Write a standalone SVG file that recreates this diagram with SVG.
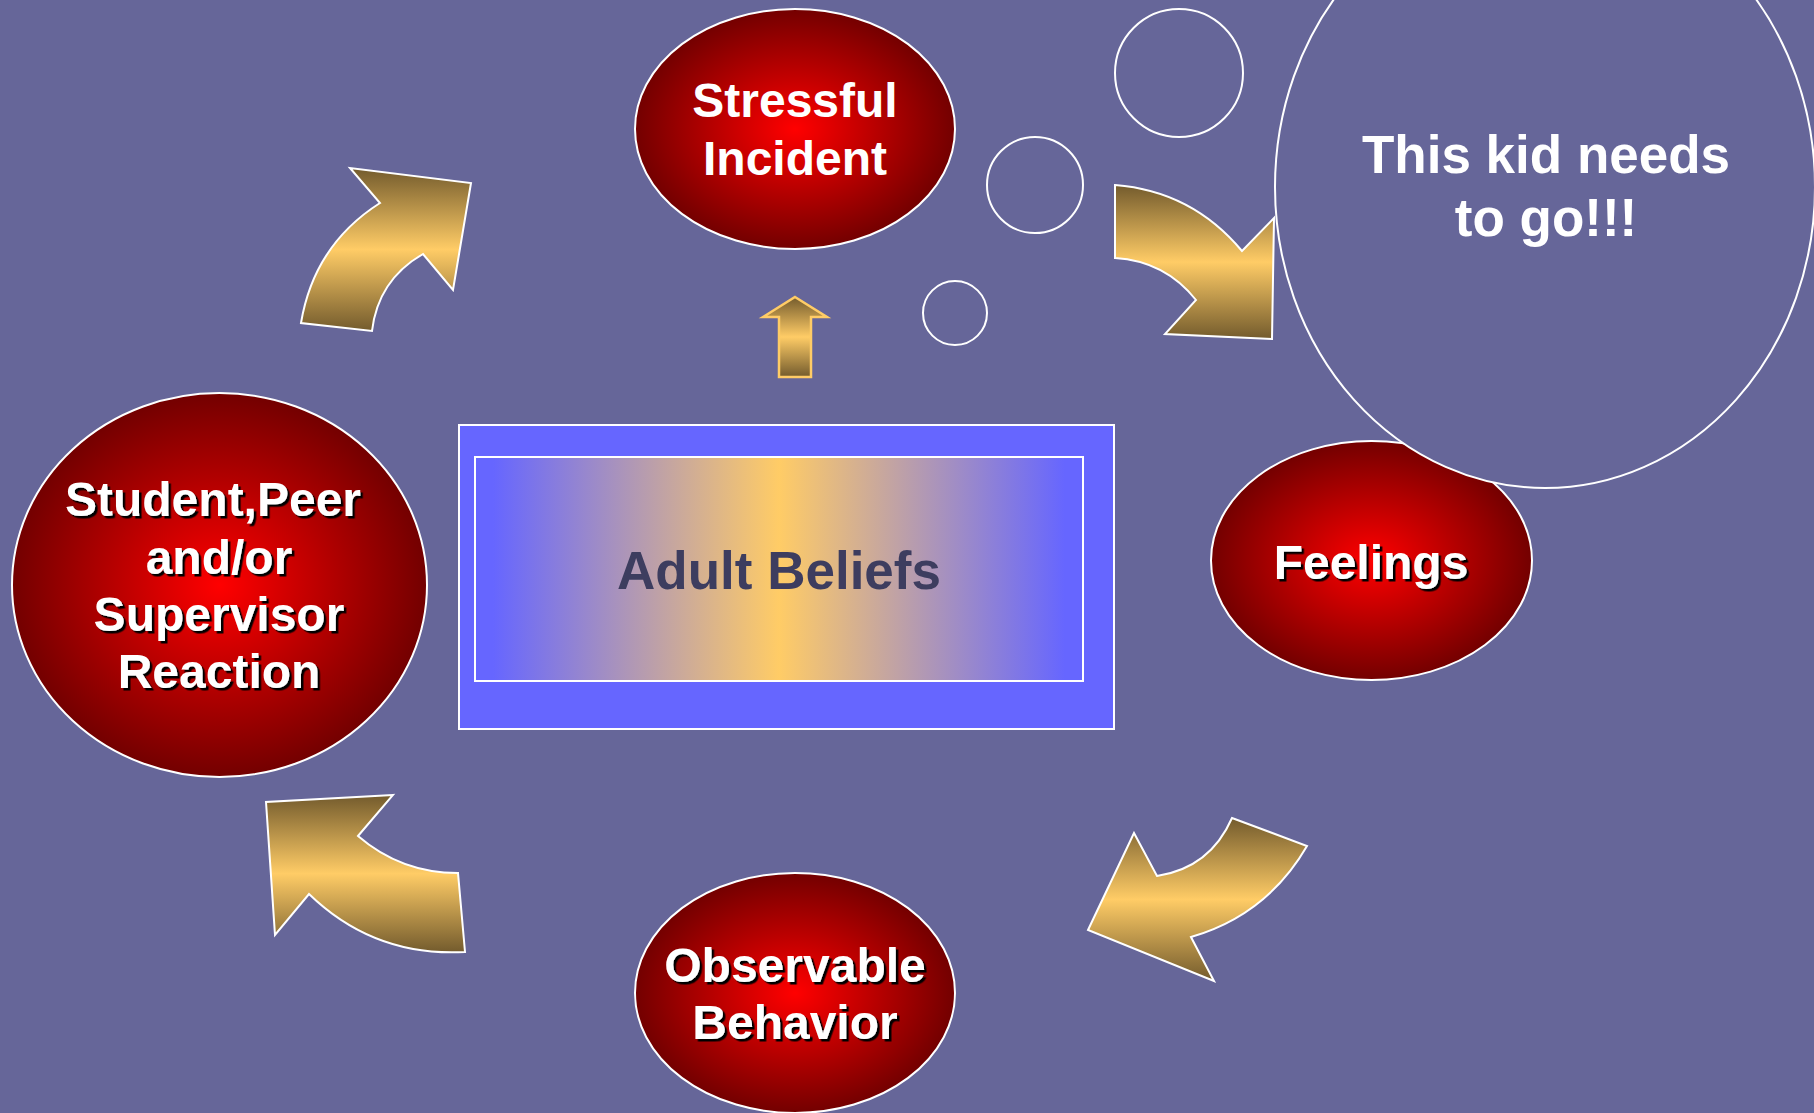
<svg xmlns="http://www.w3.org/2000/svg" width="1814" height="1113" viewBox="0 0 1814 1113">
  <style>
    .node { stroke: #FFFFFF; stroke-width: 2; fill: url(#redGrad); }
    .lbl { font-family: "Liberation Sans", Arial, sans-serif; font-weight: bold; font-size: 48px; fill: #FFFFFF; text-anchor: middle; }
    .shd { filter: url(#shadow); }
    .arrow { fill: url(#goldGrad); stroke: #FFFFFF; stroke-width: 2; stroke-linejoin: miter; }
    .bubble { fill: #666699; stroke: #FFFFFF; stroke-width: 2; }
  </style>
  <defs>
    <radialGradient id="redGrad" cx="0.5" cy="0.5" r="0.5">
      <stop offset="0" stop-color="#FF0000"/>
      <stop offset="1" stop-color="#730000"/>
    </radialGradient>
    <linearGradient id="goldGrad" x1="0" y1="0" x2="0" y2="1">
      <stop offset="0" stop-color="#735b2d"/>
      <stop offset="0.5" stop-color="#FFCC66"/>
      <stop offset="1" stop-color="#735b2d"/>
    </linearGradient>
    <linearGradient id="beliefGrad" x1="0" y1="0" x2="1" y2="0">
      <stop offset="0.03" stop-color="#6666FF"/>
      <stop offset="0.5" stop-color="#FFCC66"/>
      <stop offset="0.97" stop-color="#6666FF"/>
    </linearGradient>
    <filter id="shadow" x="-10%" y="-20%" width="120%" height="140%">
      <feDropShadow dx="2.5" dy="2.5" stdDeviation="0.4" flood-color="#000000" flood-opacity="1"/>
    </filter>
  </defs>

  <rect x="0" y="0" width="1814" height="1113" fill="#666699"/>

  <g id="adult-beliefs">
    <rect x="459" y="425" width="655" height="304" fill="#6666FF" stroke="#FFFFFF" stroke-width="2"/>
    <rect x="475" y="457" width="608" height="224" fill="url(#beliefGrad)" stroke="#FFFFFF" stroke-width="2"/>
    <text x="779" y="589" style="font-family:'Liberation Sans', Arial, sans-serif; font-weight:bold; font-size:53px; fill:#3d3d5f; text-anchor:middle;">Adult Beliefs</text>
  </g>

  <g id="stressful-incident">
    <ellipse class="node" cx="795" cy="129" rx="160" ry="120"/>
    <text class="lbl" x="795" y="117">Stressful</text>
    <text class="lbl" x="795" y="175">Incident</text>
  </g>

  <g id="feelings">
    <ellipse class="node" cx="1371.5" cy="560.5" rx="160.5" ry="119.5"/>
    <text class="lbl shd" x="1371" y="579">Feelings</text>
  </g>

  <g id="observable-behavior">
    <ellipse class="node" cx="795" cy="993" rx="160" ry="120"/>
    <text class="lbl shd" x="795" y="982">Observable</text>
    <text class="lbl shd" x="795" y="1039">Behavior</text>
  </g>

  <g id="reaction">
    <ellipse class="node" cx="219.5" cy="585" rx="207.5" ry="192"/>
    <text class="lbl shd" x="213" y="516">Student,Peer</text>
    <text class="lbl shd" x="219" y="574">and/or</text>
    <text class="lbl shd" x="219" y="631">Supervisor</text>
    <text class="lbl shd" x="219" y="688">Reaction</text>
  </g>

  <g id="thought-bubble">
    <circle class="bubble" cx="955" cy="313" r="32"/>
    <circle class="bubble" cx="1035" cy="185" r="48"/>
    <circle class="bubble" cx="1179" cy="73" r="64"/>
    <ellipse class="bubble" cx="1545" cy="187" rx="270" ry="301"/>
    <text x="1546" y="173" style="font-family:'Liberation Sans', Arial, sans-serif; font-weight:bold; font-size:53px; fill:#FFFFFF; text-anchor:middle;">This kid needs</text>
    <text x="1546" y="236" style="font-family:'Liberation Sans', Arial, sans-serif; font-weight:bold; font-size:53px; fill:#FFFFFF; text-anchor:middle;">to go!!!</text>
  </g>

  <g id="connectors">
    <path class="arrow" d="M301,323 Q314,245 380,203 L350,168 L471,183 L453,290 L423,254 Q378,280 372,331 Z"/>
    <path class="arrow" d="M1115,185 Q1192,191 1242,251 L1274,218 L1272,339 L1165,334 L1196,300 Q1165,261 1115,258 Z"/>
    <path class="arrow" d="M1232,818 L1307,846 Q1267,915 1191,937 L1214,981 L1088,930 L1134,833 L1157,876 Q1210,868 1232,818 Z"/>
    <path class="arrow" d="M393,795 L266,802 L275,935 L309,894 Q374,957 465,952 L458,873 Q401,873 358,836 Z"/>
    <path d="M795,297 L827,317 L811,317 L811,377 L779,377 L779,317 L763,317 Z" fill="url(#goldGrad)" stroke="#FFCC66" stroke-width="2.5"/>
  </g>
</svg>
